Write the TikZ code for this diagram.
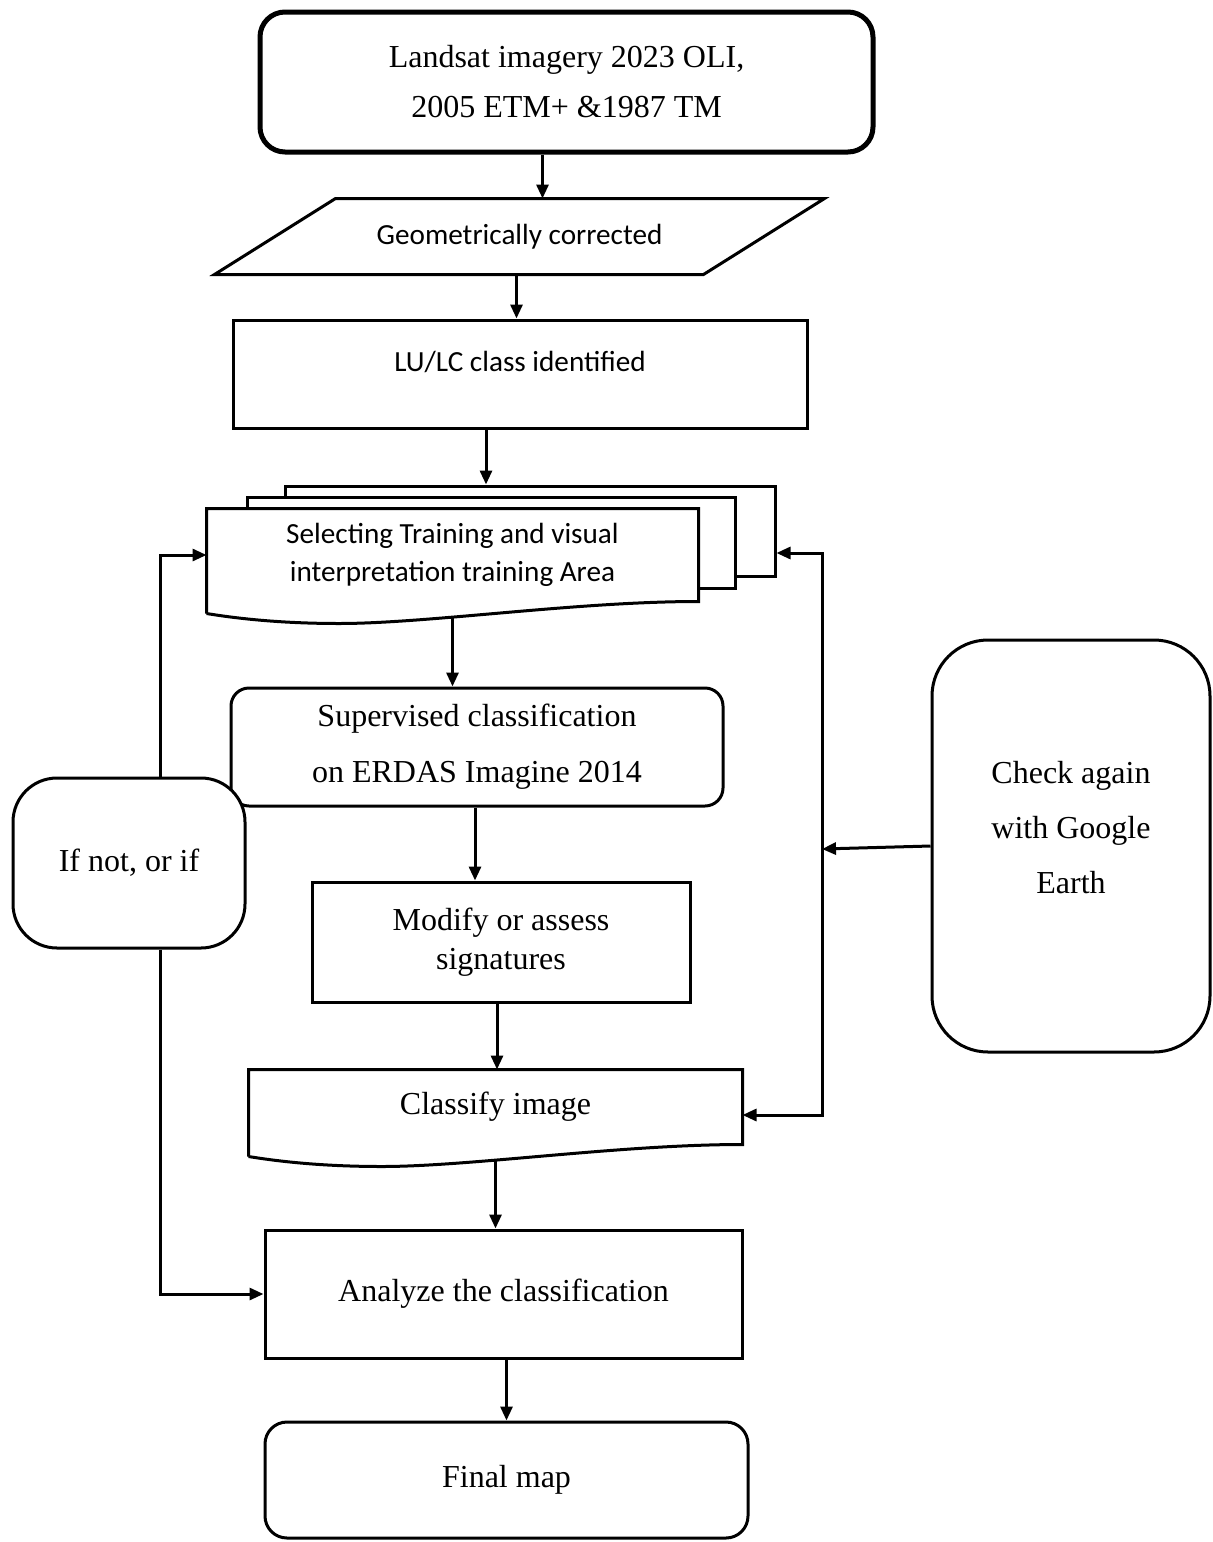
\documentclass[tikz,border=0pt]{standalone}
\usepackage{fontspec}
\setmainfont{Liberation Serif}
\newfontfamily\calibri{Carlito}
\usetikzlibrary{arrows.meta,calc}
\newcommand{\wavyoutline}[1]{%
\draw[line width=1.5pt] ([yshift=-6pt]#1.south west) -- (#1.north west) -- (#1.north east) -- (#1.south east) .. controls ($(#1.south west)!0.75!(#1.south east)$) and ([yshift=-11pt]$(#1.south west)!0.45!(#1.south east)$) .. ([yshift=-11pt]$(#1.south west)!0.27!(#1.south east)$) .. controls ([yshift=-11pt]$(#1.south west)!0.14!(#1.south east)$) and ([yshift=-8pt]$(#1.south west)!0.05!(#1.south east)$) .. ([yshift=-6pt]#1.south west);}
\newcommand{\slantoutline}[2]{%
\draw[line width=1.5pt] ([xshift=#2]#1.north west) -- ([xshift=#2]#1.north east) -- ([xshift=-#2]#1.south east) -- ([xshift=-#2]#1.south west) -- cycle;}
\begin{document}
\begin{tikzpicture}[x=0.5pt, y=-0.5pt,
  box/.style={draw=black, line width=1.5pt, fill=white, align=center, inner sep=0pt, font=\fontsize{16}{25}\selectfont},
  rbox/.style={box, rounded corners=9pt},
  sansbox/.style={box, font=\calibri\fontsize{14.6}{19}\selectfont},
  arr/.style={-{Triangle[length=7pt,width=6pt]}, line width=1.5pt}]
\useasboundingbox (0,0) rectangle (1213,1542);
\node[rbox, rounded corners=12.5pt, line width=2.5pt, minimum width=306.5pt, minimum height=70pt] (imagery) at (566.5,82) {Landsat imagery 2023 OLI,\\2005 ETM+ \&1987 TM};
\node[sansbox, draw=none, fill=none, minimum width=243pt, minimum height=36.5pt] (geo) at (519.5,236.5) {Geometrically corrected};
\slantoutline{geo}{30.25pt}
\node[sansbox, minimum width=287pt, minimum height=54pt, label={[name=lulctxt, yshift=6pt, font=\calibri\fontsize{14.6}{19}\selectfont]center:LU/LC class identified}] (lulc) at (520,374) {};
\node[box, minimum width=245pt, minimum height=45pt] (back) at (530,531) {};
\node[box, minimum width=244pt, minimum height=45.5pt] (mid) at (491,542.5) {};
\node[sansbox, draw=none, minimum width=244.5pt, minimum height=45pt] (sel) at (452.5,555) {Selecting Training and visual\\interpretation training Area};
\wavyoutline{sel}
\node[rbox, minimum width=246pt, minimum height=59pt, font=\fontsize{16}{28}\selectfont] (sup) at (477,747) {Supervised classification\\on ERDAS Imagine 2014};
\node[box, minimum width=189pt, minimum height=60pt, font=\fontsize{16}{19.5}\selectfont] (modify) at (501,942) {Modify or assess\\signatures};
\node[box, draw=none, minimum width=245.5pt, minimum height=36pt] (cls) at (495.5,1107) {Classify image};
\wavyoutline{cls}
\node[box, minimum width=238.5pt, minimum height=64pt] (analyze) at (503.5,1294) {Analyze the classification};
\node[rbox, rounded corners=11pt, minimum width=241.5pt, minimum height=58pt] (final) at (506.5,1480) {Final map};
\node[rbox, rounded corners=22pt, minimum width=116pt, minimum height=85pt] (ifnot) at (129,863) {If not, or if};
\node[rbox, rounded corners=28pt, minimum width=139pt, minimum height=206pt, label={[name=checktxt, yshift=9pt, align=center, font=\fontsize{16}{27.5}\selectfont]center:{Check again\\with Google\\Earth}}] (check) at (1071,846) {};
\coordinate (rbar) at (822,849);
\draw[arr] ([xshift=-12pt]imagery.south) -- ([xshift=-12pt]imagery.south |- geo.north);
\draw[arr] ([xshift=-1.5pt]geo.south) -- ([xshift=-1.5pt]geo.south |- lulc.north);
\draw[arr] ([xshift=-17pt]lulc.south) -- ([xshift=-17pt]lulc.south |- back.north);
\draw[arr] ([yshift=-8pt]sel.south) -- (sel.south |- sup.north);
\draw[arr] ([xshift=-1pt]sup.south) -- ([xshift=-1pt]sup.south |- modify.north);
\draw[arr] ([xshift=-2pt]modify.south) -- ([xshift=-2pt]modify.south |- cls.north);
\draw[arr] ([yshift=-7pt]cls.south) -- (cls.south |- analyze.north);
\draw[arr] (final.north |- analyze.south) -- (final.north);
\draw[arr] ([xshift=15.5pt]ifnot.north) |- (sel.west);
\draw[arr] ([xshift=15.5pt]ifnot.south) |- (analyze.west);
\draw[arr] (check.west) -- (rbar);
\draw[arr] (rbar) |- ([yshift=-11pt]back.east);
\draw[arr] (rbar) |- ([yshift=-4pt]cls.east);
\end{tikzpicture}
\end{document}
